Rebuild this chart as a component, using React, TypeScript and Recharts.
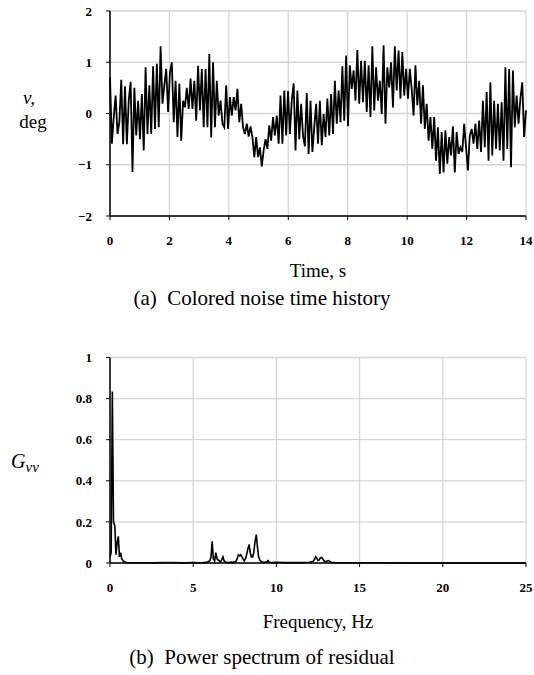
import React from "react";
import { CartesianGrid, Line, LineChart, XAxis, YAxis } from "recharts";

// (a) colored noise, deg, sampled uniformly over 0..14 s
const T_END = 14;
const noiseDeg = [
  0.71, -0.59, -0.07, 0.35, -0.4, -0.17, 0.66, -0.6, 0.53, -0.6,
  0.25, 0.62, -1.14, 0.5, -0.43, 0.25, -0.5, 0.38, -0.72, 0.9,
  -0.4, 0.55, -0.4, 0.92, -0.3, 0.97, -0.27, 1.31, 0.19, 0.55,
  0.87, 0.03, 0.8, 1.0, -0.17, 0.64, -0.46, 0.58, -0.53, 0.25,
  0.12, 0.5, 0.09, 0.68, 0.09, 0.64, -0.14, 0.93, 0.06, 0.87,
  -0.27, 0.87, -0.27, 1.16, -0.47, 1.0, -0.27, 0.64, -0.04, 0.25,
  -0.2, -0.27, 0.55, -0.3, 0.32, -0.04, 0.32, 0.06, 0.48, -0.17,
  0.19, -0.27, -0.4, -0.2, -0.45, -0.25, -0.46, -0.85, -0.46, -0.85,
  -0.66, -1.03, -0.72, -0.5, -0.69, -0.23, -0.53, -0.07, -0.43, -0.04,
  -0.59, 0.35, -0.59, 0.45, -0.43, 0.44, -0.4, 0.25, 0.59, -0.72,
  0.45, -0.5, 0.19, -0.43, -0.64, 0.4, -0.79, 0.25, -0.75, -0.27,
  0.19, -0.59,
  0.25, -0.62, -0.01, -0.46, 0.29, -0.43, 0.38, -0.4, 0.64, -0.2,
  0.45, -0.17, 0.92, -0.14, 1.13, -0.25, 0.94, 0.48, 0.84, 0.25,
  1.24, 0.19, 1.03, 0.22, 1.03, 0.03, 0.94, -0.07, 1.31, 0.06,
  0.9, 0.25, 0.64, -0.01, 1.33, -0.2, 0.9, 0.51, 1.0, 0.12,
  1.31, 0.45, 1.23, 0.29, 1.2, 0.35, 0.87, 0.29, 0.87, 0.48,
  -0.04, 0.94, 0.16, 0.64, -0.2, 0.55, -0.3, 0.19, -0.53, -0.07,
  -0.69, -0.07, -0.92, -0.27, -1.18, -0.36, -1.15, -0.33, -0.98, -0.46,
  -0.82, -0.25, -1.15, -0.36, -0.79, -0.66, -0.75, -0.2, -0.66, -1.11,
  -0.43, -0.3, -0.59, -0.2, -0.69, -0.14, -0.75, 0.25, -0.66, 0.42,
  -0.92, 0.61, -0.82, 0.25, -0.69, 0.19, -0.72, 0.22, -0.92, 0.9,
  -0.69, 0.87, -1.05, 0.84, -0.27, 0.35, -0.2, 0.29, 0.61, -0.46,
  0.06,
];
const timeTicks = [0, 2, 4, 6, 8, 10, 12, 14];
const degTicks = [-2, -1, 0, 1, 2];

// (b) power spectrum of residual
const freqHz = [
  0, 0.07, 0.14, 0.21, 0.29, 0.36, 0.43, 0.5, 0.57, 0.64,
  0.71, 0.79, 0.86, 1.0, 1.5, 2.5, 3.5, 4.5, 5.0, 5.5,
  5.8, 5.93, 6.0, 6.07, 6.14, 6.21, 6.29, 6.36, 6.43, 6.5,
  6.57, 6.64, 6.71, 6.79, 6.86, 6.93, 7.0, 7.14, 7.29, 7.43,
  7.57, 7.64, 7.71, 7.79, 7.86, 7.93, 8.0, 8.07, 8.14, 8.21,
  8.29, 8.36, 8.43, 8.5, 8.57, 8.64, 8.71, 8.79, 8.86, 8.93,
  9.0, 9.07, 9.14, 9.29, 9.43, 9.5, 9.57, 9.71, 10.0, 10.5,
  11.0, 11.5, 12.0, 12.21, 12.29, 12.36, 12.43, 12.5, 12.57, 12.64,
  12.71, 12.79, 12.86, 12.93, 13.0, 13.07, 13.14, 13.21, 13.29, 13.5,
  14, 15, 16, 18, 20, 22, 25,
];
const gvv = [
  0.03, 0.05, 0.835, 0.2, 0.18, 0.04, 0.1, 0.13, 0.03, 0.05,
  0.02, 0.01, 0.006, 0.002, 0.001, 0.001, 0.002, 0.001, 0.002, 0.001,
  0.003, 0.008, 0.01, 0.03, 0.105, 0.02, 0.01, 0.05, 0.02, 0.015,
  0.01, 0.005, 0.015, 0.03, 0.01, 0.005, 0.003, 0.002, 0.004, 0.003,
  0.008, 0.02, 0.04, 0.035, 0.04, 0.03, 0.02, 0.01, 0.02, 0.04,
  0.07, 0.09, 0.05, 0.03, 0.03, 0.05, 0.1, 0.138, 0.08, 0.03,
  0.015, 0.008, 0.005, 0.004, 0.006, 0.012, 0.004, 0.002, 0.003, 0.002,
  0.002, 0.002, 0.004, 0.008, 0.018, 0.03, 0.022, 0.012, 0.015, 0.025,
  0.027, 0.02, 0.01, 0.006, 0.008, 0.01, 0.012, 0.008, 0.004, 0.002,
  0.001, 0.001, 0.001, 0, 0, 0, 0,
];
const freqTicks = [0, 5, 10, 15, 20, 25];
const gvvTicks = [0, 0.2, 0.4, 0.6, 0.8, 1];

const timeData = noiseDeg.map((v, i) => ({
  t: (i * T_END) / (noiseDeg.length - 1),
  v,
}));
const specData = freqHz.map((f, i) => ({ f, g: gvv[i] }));

const serif = '"Liberation Serif", "Times New Roman", serif';
const tickStyle = { fontFamily: serif, fontSize: 13, fontWeight: 700, fill: "#000" };
const axisLine = { stroke: "#000", strokeWidth: 1.5 };
const minus = (v: number) => (v < 0 ? `\u2212${Math.abs(v)}` : `${v}`);

const Txt = ({ x, y, size, italic, children }: any) => (
  <div
    style={{
      position: "absolute",
      left: x,
      top: y,
      transform: "translate(-50%, -50%)",
      fontSize: size,
      fontStyle: italic ? "italic" : "normal",
      whiteSpace: "nowrap",
      lineHeight: 1,
    }}
  >
    {children}
  </div>
);

export default function App() {
  return (
    <div
      style={{
        position: "absolute",
        left: 0,
        top: 0,
        width: 534,
        height: 675,
        background: "#fff",
        fontFamily: serif,
        color: "#000",
      }}
    >
      <div style={{ position: "absolute", left: 0, top: 0 }}>
        <LineChart
          width={534}
          height={250}
          data={timeData}
          margin={{ top: 11, right: 8, bottom: 4, left: 0 }}
        >
          <CartesianGrid stroke="#d6d6d6" strokeWidth={1.3} />
          <XAxis
            dataKey="t"
            type="number"
            domain={[0, 14]}
            ticks={timeTicks}
            interval={0}
            height={30}
            tick={tickStyle}
            tickSize={4}
            tickMargin={16}
            axisLine={axisLine}
            tickLine={{ stroke: "#000" }}
          />
          <YAxis
            type="number"
            domain={[-2, 2]}
            ticks={degTicks}
            interval={0}
            width={110}
            tick={tickStyle}
            tickSize={4}
            tickMargin={14}
            tickFormatter={minus}
            axisLine={axisLine}
            tickLine={{ stroke: "#000" }}
          />
          <Line
            type="linear"
            dataKey="v"
            stroke="#000"
            strokeWidth={1.8}
            dot={false}
            isAnimationActive={false}
          />
        </LineChart>
      </div>

      <div style={{ position: "absolute", left: 0, top: 320 }}>
        <LineChart
          width={534}
          height={280}
          data={specData}
          margin={{ top: 37.5, right: 8, bottom: 7, left: 0 }}
        >
          <CartesianGrid stroke="#d6d6d6" strokeWidth={1.3} />
          <XAxis
            dataKey="f"
            type="number"
            domain={[0, 25]}
            ticks={freqTicks}
            interval={0}
            height={30}
            tick={tickStyle}
            tickSize={4}
            tickMargin={16}
            axisLine={axisLine}
            tickLine={{ stroke: "#000" }}
          />
          <YAxis
            type="number"
            domain={[0, 1]}
            ticks={gvvTicks}
            interval={0}
            width={110}
            tick={tickStyle}
            tickSize={4}
            tickMargin={14}
            axisLine={axisLine}
            tickLine={{ stroke: "#000" }}
          />
          <Line
            type="linear"
            dataKey="g"
            stroke="#000"
            strokeWidth={1.6}
            dot={false}
            isAnimationActive={false}
          />
        </LineChart>
      </div>

      <Txt x={29} y={97} size={19} italic>
        v,
      </Txt>
      <Txt x={33} y={121} size={19}>
        deg
      </Txt>
      <Txt x={318} y={270} size={19}>
        Time, s
      </Txt>
      <Txt x={262} y={298} size={21}>
        (a)&nbsp;&nbsp;Colored noise time history
      </Txt>

      <Txt x={25} y={463} size={20} italic>
        G<sub style={{ fontSize: 15, verticalAlign: "-0.3em" }}>vv</sub>
      </Txt>
      <Txt x={318} y={621} size={19}>
        Frequency, Hz
      </Txt>
      <Txt x={262} y={657} size={21}>
        (b)&nbsp;&nbsp;Power spectrum of residual
      </Txt>
    </div>
  );
}
